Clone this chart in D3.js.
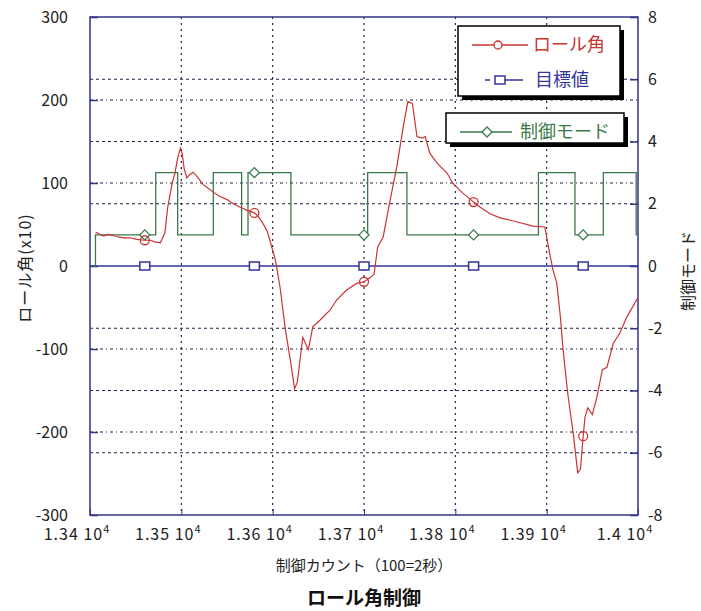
<!DOCTYPE html>
<html>
<head>
<meta charset="utf-8">
<script src="https://cdn.jsdelivr.net/npm/d3@7"></script>
<style>
  body { margin: 0; background: #fff; }
  text { font-family: "Noto Sans CJK JP", "Noto Sans", sans-serif; }
</style>
</head>
<body>
<div id="chart"></div>
<script>
// roll angle (x10) samples: [count, value]
const rollData = [
  [13406, 41], [13411, 38], [13415, 36], [13420, 38], [13425, 37], [13431, 35],
  [13437, 34], [13444, 34], [13451, 32], [13460, 31], [13466, 31], [13471, 29],
  [13477, 28], [13482, 40], [13485, 70], [13490, 100], [13493, 112], [13496, 130],
  [13499, 142], [13501, 135], [13503, 118], [13506, 106], [13509, 110], [13513, 113],
  [13517, 108], [13524, 98], [13529, 94], [13535, 89], [13542, 84], [13550, 80],
  [13558, 74], [13564, 71], [13572, 67], [13580, 64], [13584, 60], [13589, 52],
  [13594, 42], [13597, 31], [13603, 7], [13608, -25], [13614, -77], [13619, -111],
  [13624, -148], [13627, -140], [13630, -113], [13633, -86], [13639, -101], [13644, -73],
  [13652, -65], [13663, -53], [13670, -41], [13681, -29], [13692, -21], [13700, -19],
  [13707, -14], [13711, -10], [13715, 23], [13721, 35], [13728, 76], [13736, 120],
  [13743, 168], [13748, 198], [13753, 196], [13758, 156], [13764, 154], [13767, 156],
  [13772, 136], [13780, 124], [13791, 112], [13797, 100], [13807, 89], [13820, 77],
  [13827, 71], [13838, 63], [13849, 58], [13868, 53], [13885, 48], [13898, 47],
  [13900, 35], [13904, 11], [13907, -5], [13911, -20], [13915, -61], [13918, -101],
  [13923, -153], [13929, -201], [13934, -249], [13937, -245], [13940, -205], [13942, -182],
  [13945, -171], [13950, -179], [13955, -158], [13961, -125], [13966, -122], [13973, -93],
  [13980, -81], [13988, -61], [14000, -38]
];

// control mode steps: [count, mode]
const modeData = [
  [13405, 0], [13406, 1], [13472, 3], [13496, 1], [13535, 3], [13566, 1],
  [13573, 3], [13620, 1], [13704, 3], [13747, 1], [13891, 3], [13931, 1],
  [13962, 3], [13998, 1], [14000, 1]
];

// target value
const targetData = [[13400, 0], [14000, 0]];

// marker positions
const markerX = [13460, 13580, 13700, 13820, 13940];
const rollMarks = [31, 64, -19, 77, -205];
const targetMarks = [0, 0, 0, 0, 0];
const modeMarks = [1, 3, 1, 1, 1];

const xTicks = [13400, 13500, 13600, 13700, 13800, 13900, 14000];
const xTickLabels = ["1.34", "1.35", "1.36", "1.37", "1.38", "1.39", "1.4"];
const yLeftTicks = [300, 200, 100, 0, -100, -200, -300];
const yRightTicks = [8, 6, 4, 2, 0, -2, -4, -6, -8];

const width = 701, height = 611;
const margin = { top: 17, right: 63, bottom: 96, left: 90 };
const innerWidth = width - margin.left - margin.right;
const innerHeight = height - margin.top - margin.bottom;

const red = "#cc3333", blue = "#333399", green = "#3a7a48", frame = "#333388";

const xScale = d3.scaleLinear().domain([13400, 14000]).range([0, innerWidth]);
const yLeft = d3.scaleLinear().domain([-300, 300]).range([innerHeight, 0]);
const yRight = d3.scaleLinear().domain([-8, 8]).range([innerHeight, 0]);

const svg = d3.select("#chart").append("svg")
  .attr("width", width).attr("height", height);

const inner = svg.append("g")
  .attr("transform", `translate(${margin.left},${margin.top})`);

// grid lines
inner.append("g").selectAll("line")
  .data(yRightTicks.filter(d => Math.abs(d) < 8 && d !== 0))
  .join("line")
    .attr("x1", 0).attr("x2", innerWidth)
    .attr("y1", d => yRight(d)).attr("y2", d => yRight(d))
    .attr("stroke", "#222244").attr("stroke-width", 1.2)
    .attr("stroke-dasharray", "3,3");

inner.append("g").selectAll("line")
  .data(yLeftTicks.filter(d => Math.abs(d) < 300 && d !== 0))
  .join("line")
    .attr("x1", 0).attr("x2", innerWidth)
    .attr("y1", d => yLeft(d)).attr("y2", d => yLeft(d))
    .attr("stroke", "#222244").attr("stroke-width", 1.2)
    .attr("stroke-dasharray", "3,3,1,3");

inner.append("g").selectAll("line")
  .data(xTicks.slice(1, -1))
  .join("line")
    .attr("x1", d => xScale(d)).attr("x2", d => xScale(d))
    .attr("y1", 0).attr("y2", innerHeight)
    .attr("stroke", "#222244").attr("stroke-width", 1.2)
    .attr("stroke-dasharray", "2,4");

// left axis
const leftAxis = d3.axisLeft(yLeft).tickValues(yLeftTicks).tickSize(-8).tickPadding(22)
  .tickFormat(d => String(d));
const gl = inner.append("g").call(leftAxis);
gl.select(".domain").remove();
gl.selectAll("line").attr("stroke", frame).attr("stroke-width", 1.5);
gl.selectAll("text").attr("font-size", 16).attr("fill", "#222");

// right axis
const rightAxis = d3.axisRight(yRight).tickValues(yRightTicks).tickSize(-8).tickPadding(10)
  .tickFormat(d => String(d));
const gr = inner.append("g").attr("transform", `translate(${innerWidth},0)`).call(rightAxis);
gr.select(".domain").remove();
gr.selectAll("line").attr("stroke", frame).attr("stroke-width", 1.5);
gr.selectAll("text").attr("font-size", 16).attr("fill", "#222");

// bottom axis ticks
const bottomAxis = d3.axisBottom(xScale).tickValues(xTicks).tickSize(-6).tickFormat("");
const gb = inner.append("g").attr("transform", `translate(0,${innerHeight})`).call(bottomAxis);
gb.select(".domain").remove();
gb.selectAll("line").attr("stroke", frame);

const xl = inner.append("g").selectAll("text")
  .data(xTicks)
  .join("text")
    .attr("x", d => xScale(d) - 13)
    .attr("y", innerHeight + 25)
    .attr("text-anchor", "middle")
    .attr("font-size", 16)
    .attr("letter-spacing", 1)
    .attr("fill", "#222");
xl.append("tspan").text((d, i) => xTickLabels[i] + " 10");
xl.append("tspan").text("4").attr("dy", -7).attr("font-size", 11);

// frame
inner.append("rect")
  .attr("width", innerWidth).attr("height", innerHeight)
  .attr("fill", "none").attr("stroke", frame).attr("stroke-width", 1.5);

// target line
inner.append("path")
  .datum(targetData)
  .attr("d", d3.line().x(d => xScale(d[0])).y(d => yLeft(d[1])))
  .attr("fill", "none").attr("stroke", blue).attr("stroke-width", 1.5);

// mode line
inner.append("path")
  .datum(modeData)
  .attr("d", d3.line().curve(d3.curveStepAfter).x(d => xScale(d[0])).y(d => yRight(d[1])))
  .attr("fill", "none").attr("stroke", green).attr("stroke-width", 1.3);

// roll line
inner.append("path")
  .datum(rollData)
  .attr("d", d3.line().x(d => xScale(d[0])).y(d => yLeft(d[1])))
  .attr("fill", "none").attr("stroke", red).attr("stroke-width", 1.2);

// markers
inner.append("g").selectAll("rect")
  .data(markerX)
  .join("rect")
    .attr("x", d => xScale(d) - 5).attr("y", (d, i) => yLeft(targetMarks[i]) - 4)
    .attr("width", 10).attr("height", 8)
    .attr("fill", "#fff").attr("stroke", blue).attr("stroke-width", 1.5);

inner.append("g").selectAll("path")
  .data(markerX)
  .join("path")
    .attr("transform", (d, i) => `translate(${xScale(d)},${yRight(modeMarks[i])})`)
    .attr("d", "M-5,0L0,-5L5,0L0,5Z")
    .attr("fill", "#fff").attr("stroke", green).attr("stroke-width", 1.3);

inner.append("g").selectAll("circle")
  .data(markerX)
  .join("circle")
    .attr("cx", d => xScale(d)).attr("cy", (d, i) => yLeft(rollMarks[i]))
    .attr("r", 4.5)
    .attr("fill", "none").attr("stroke", red).attr("stroke-width", 1.3);

// legends
const legendBox = (x, y, w, h) => {
  svg.append("rect").attr("x", x + 4).attr("y", y + 4).attr("width", w).attr("height", h).attr("fill", "#000");
  svg.append("rect").attr("x", x).attr("y", y).attr("width", w).attr("height", h)
    .attr("fill", "#fff").attr("stroke", "#000").attr("stroke-width", 1.5);
};
legendBox(458, 26, 162, 70);
legendBox(446, 113, 178, 30);

// roll legend
svg.append("line").attr("x1", 472).attr("x2", 528).attr("y1", 45).attr("y2", 45).attr("stroke", red).attr("stroke-width", 1.3);
svg.append("circle").attr("cx", 498).attr("cy", 45).attr("r", 4).attr("fill", "#fff").attr("stroke", red).attr("stroke-width", 1.3);
svg.append("text").attr("x", 533).attr("y", 51).attr("font-size", 18).attr("fill", red).text("ロール角");

// target legend
svg.append("line").attr("x1", 485).attr("x2", 490).attr("y1", 80).attr("y2", 80).attr("stroke", blue).attr("stroke-width", 1.5);
svg.append("line").attr("x1", 495).attr("x2", 523).attr("y1", 80).attr("y2", 80).attr("stroke", blue).attr("stroke-width", 1.5);
svg.append("rect").attr("x", 495).attr("y", 76).attr("width", 10).attr("height", 8).attr("fill", "#fff").attr("stroke", blue).attr("stroke-width", 1.5);
svg.append("text").attr("x", 535).attr("y", 86).attr("font-size", 18).attr("fill", blue).text("目標値");

// mode legend
svg.append("line").attr("x1", 460).attr("x2", 512).attr("y1", 132).attr("y2", 132).attr("stroke", green).attr("stroke-width", 1.3);
svg.append("path").attr("transform", "translate(487,132)").attr("d", "M-5,0L0,-5L5,0L0,5Z")
  .attr("fill", "#fff").attr("stroke", green).attr("stroke-width", 1.3);
svg.append("text").attr("x", 520).attr("y", 138).attr("font-size", 18).attr("fill", green).text("制御モード");

// axis titles
svg.append("text")
  .attr("transform", "translate(31,268) rotate(-90)")
  .attr("text-anchor", "middle").attr("font-size", 16).attr("letter-spacing", 1).attr("fill", "#222")
  .text("ロール角(x10)");

svg.append("text")
  .attr("transform", "translate(694,271) rotate(-90)")
  .attr("text-anchor", "middle").attr("font-size", 16).attr("fill", "#222")
  .text("制御モード");

svg.append("text")
  .attr("x", 364).attr("y", 571)
  .attr("text-anchor", "middle").attr("font-size", 15).attr("fill", "#222")
  .text("制御カウント（100=2秒）");

svg.append("text")
  .attr("x", 364).attr("y", 605)
  .attr("text-anchor", "middle").attr("font-size", 19).attr("font-weight", "bold").attr("fill", "#111")
  .text("ロール角制御");
</script>
</body>
</html>
